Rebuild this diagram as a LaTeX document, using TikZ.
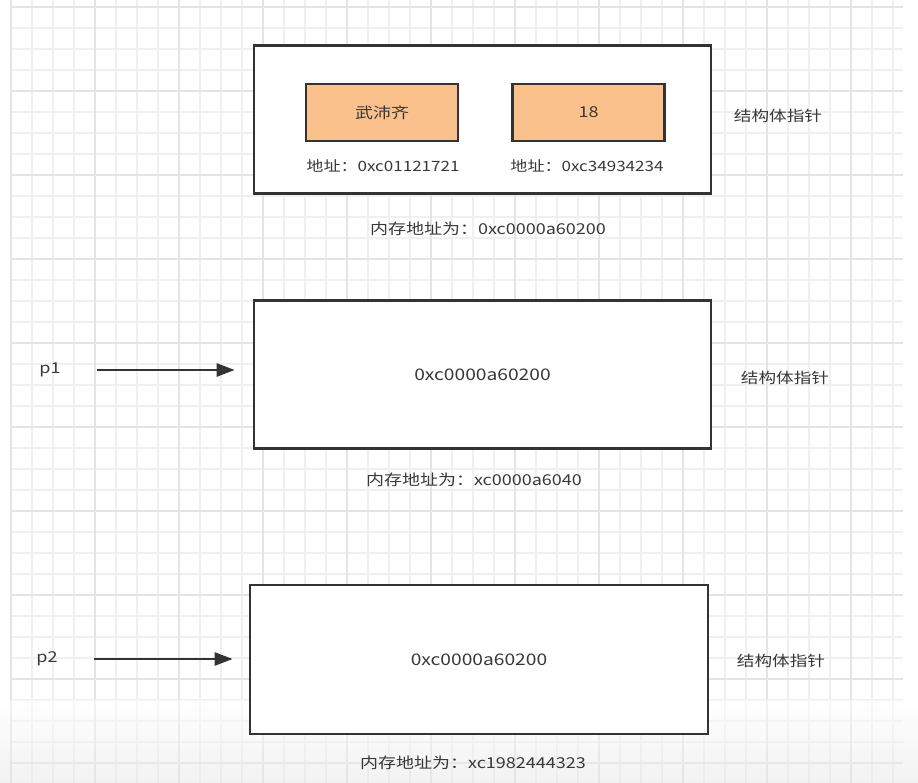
\documentclass[tikz,border=0pt]{standalone}
\usepackage{fontspec}
\setmainfont{Noto Sans CJK SC}[FakeStretch=1.2]
\usetikzlibrary{arrows.meta, positioning}
\definecolor{GridMinor}{HTML}{F0F0F0}
\definecolor{GridMajor}{HTML}{E4E4E4}
\definecolor{BoxLine}{HTML}{333333}
\definecolor{TextGray}{HTML}{383838}
\definecolor{FieldOrange}{HTML}{FBC18D}

\tikzset{
  structbox/.style={draw=BoxLine, line width=2.6pt, fill=white, minimum width=457pt, minimum height=148pt, inner sep=0pt, text=TextGray, font=\fontsize{16}{19}\selectfont},
  fieldbox/.style={draw=BoxLine, line width=2.3pt, fill=FieldOrange, minimum width=152pt, minimum height=57pt, text=TextGray, font=\fontsize{15}{18}\selectfont},
  memlabel/.style={text=TextGray, font=\fontsize{15}{18}\selectfont},
  fieldaddr/.style={text=TextGray, font=\fontsize{14.2}{17}\selectfont},
  kindlabel/.style={text=TextGray, font=\fontsize{14.7}{18}\selectfont},
  ptrlabel/.style={text=TextGray, font=\fontsize{15}{18}\selectfont},
  ptrarrow/.style={draw=BoxLine, line width=2.5pt, -{Triangle[length=18pt, width=13pt]}}
}

\begin{document}
\begin{tikzpicture}[x=1pt, y=-1pt]
    \useasboundingbox (0,0) rectangle (918,783);
    % Grid
    \foreach \i in {0,...,42} \draw[GridMinor, line width=1.2pt] (11+21*\i,0) -- (11+21*\i,783);
    \foreach \j in {0,...,37} \draw[GridMinor, line width=1.2pt] (11,7+21*\j) -- (903,7+21*\j);
    \foreach \i in {0,4,...,40} \draw[GridMajor, line width=1.4pt] (11+21*\i,0) -- (11+21*\i,783);
    \foreach \j in {0,4,...,36} \draw[GridMajor, line width=1.4pt] (11,7+21*\j) -- (903,7+21*\j);
    \shade[top color=white, bottom color=black!10, opacity=0.5] (0,700) rectangle (918,783);
    % Struct in memory
    \node[structbox] (structA) at (482.5,119.5) {};
    \node[fieldbox] (nameField) at (382,112.5) {武沛齐};
    \node[fieldbox] (ageField) at (588.5,112.5) {18};
    \node[fieldaddr] (nameAddr) at (383,166) {地址：0xc01121721};
    \node[fieldaddr] (ageAddr) at (587,166) {地址：0xc34934234};
    \node[memlabel] (addrA) at (488,229) {内存地址为：0xc0000a60200};
    \node[kindlabel] (kindA) at (778,116) {结构体指针};
    % p1
    \node[structbox] (structB) at (482.5,374.5) {0xc0000a60200};
    \node[ptrlabel] (p1) at (50,370) {p1};
    \draw[ptrarrow, shorten <=33pt, shorten >=18pt] (p1) -- (p1 -| structB.west);
    \node[memlabel] (addrB) at (474,480) {内存地址为：xc0000a6040};
    \node[kindlabel] (kindB) at (785,378) {结构体指针};
    % p2
    \node[structbox, minimum width=458pt, minimum height=149pt] (structC) at (479,659.5) {0xc0000a60200};
    \node[ptrlabel] (p2) at (47,659) {p2};
    \draw[ptrarrow, shorten <=33pt, shorten >=16pt] (p2) -- (p2 -| structC.west);
    \node[memlabel] (addrC) at (473,763) {内存地址为：xc1982444323};
    \node[kindlabel] (kindC) at (781,661) {结构体指针};
\end{tikzpicture}
\end{document}
